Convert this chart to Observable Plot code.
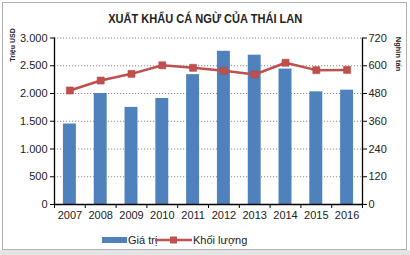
<!DOCTYPE html>
<html><head><meta charset="utf-8">
<script src="https://cdn.jsdelivr.net/npm/d3@7"></script>
<script src="https://cdn.jsdelivr.net/npm/@observablehq/plot@0.6"></script>
<style>
body{margin:0;background:#fff;}
#wrap{position:relative;width:410px;height:255px;overflow:hidden;font-family:"Liberation Sans",Arial,sans-serif;}
#frame{position:absolute;left:2px;top:2px;width:403px;height:246px;border:1px solid #b0b0b0;}
#strip{position:absolute;left:0;top:250px;width:410px;height:5px;background:#e4e4e4;}
#title{position:absolute;left:0;top:9px;width:410px;text-align:center;}
#title span{display:inline-block;transform:scaleX(0.85);font-family:"Liberation Sans",Arial,sans-serif;font-weight:bold;font-size:13px;color:#222;white-space:nowrap;}
#plot{position:absolute;left:0;top:0;}
#over{position:absolute;left:0;top:0;}
</style></head>
<body>
<div id="wrap">
<div id="frame"></div>
<div id="strip"></div>
<div id="plot"></div>
<div id="title"><span>XUẤT KHẨU CÁ NGỪ CỦA THÁI LAN</span></div>
<svg id="over" width="410" height="255"></svg>
</div>
<script>
const years = [2007, 2008, 2009, 2010, 2011, 2012, 2013, 2014, 2015, 2016];
const values = [1450, 2000, 1750, 1910, 2340, 2760, 2690, 2440, 2030, 2060];
const volumes = [493, 536, 565, 602, 591, 578, 562, 613, 581, 582];
const leftTicks = [0, 500, 1000, 1500, 2000, 2500, 3000];
const rightTicks = [0, 120, 240, 360, 480, 600, 720];
const seriesNames = ["Giá trị", "Khối lượng"];
const axisTitles = ["Triệu USD", "Nghìn tấn"];

const ratio = 3000 / 720;
const data = years.map((y, i) => ({year: y, value: values[i], vol: volumes[i]}));
const loc = d3.formatLocale({decimal: ",", thousands: ".", grouping: [3], currency: ["", ""]});
const fmt = loc.format(",");
const bounds = years.map(y => y - 0.5).concat([years[years.length - 1] + 0.5]);
const x0 = bounds[0], x1 = bounds[bounds.length - 1];

const chart = Plot.plot({
  width: 410, height: 255,
  marginLeft: 54, marginRight: 48, marginTop: 37.5, marginBottom: 51,
  style: {fontSize: "11px", fontFamily: "'Liberation Sans', Arial, sans-serif", color: "#222", background: "transparent"},
  x: {type: "linear", domain: [x0, x1], axis: null},
  y: {domain: [0, 3000], axis: null},
  marks: [
    Plot.ruleY(leftTicks.slice(1), {stroke: "#8a8a8a", strokeDasharray: "1.2,1.8", strokeWidth: 1}),
    Plot.rect(data, {x1: d => d.year - 0.21, x2: d => d.year + 0.21, y1: 0, y2: "value", fill: "#4F81BD"}),
    Plot.line(data, {x: "year", y: d => d.vol * ratio, stroke: "#C0504D", strokeWidth: 2.5}),
    Plot.dot(data, {x: "year", y: d => d.vol * ratio, symbol: "square", r: 4, fill: "#C0504D", stroke: "#B04440", strokeWidth: 0.5}),
    Plot.ruleX([x0], {y1: 0, y2: 3000, stroke: "#000", strokeWidth: 1.3}),
    Plot.ruleX([x1], {y1: 0, y2: 3000, stroke: "#000", strokeWidth: 1.3}),
    Plot.ruleY([0], {stroke: "#000", strokeWidth: 1.3}),
    Plot.axisY({anchor: "left", label: null, ticks: leftTicks, tickFormat: d => fmt(d), tickSize: 4, tickPadding: 3, stroke: "#000", fill: "#222"}),
    Plot.axisY({anchor: "right", label: null, ticks: rightTicks.map(t => t * ratio), tickFormat: d => String(Math.round(d / ratio)), tickSize: 4, tickPadding: 2, stroke: "#000", fill: "#222"}),
    Plot.axisX({label: null, ticks: bounds, tickFormat: () => "", tickSize: 4, stroke: "#000"}),
    Plot.axisX({label: null, ticks: years, tickFormat: d => String(d), tickSize: 0, tickPadding: 7, fill: "#222"}),
    Plot.text([axisTitles[0]], {text: d => d, frameAnchor: "top-left", dx: -42, dy: 7, rotate: -90, textAnchor: "middle", lineAnchor: "middle", fontSize: 7, fontWeight: "bold", fill: "#222"}),
    Plot.text([axisTitles[1]], {text: d => d, frameAnchor: "top-right", dx: 36, dy: 16, rotate: 90, textAnchor: "middle", lineAnchor: "middle", fontSize: 7.5, fontWeight: "bold", fill: "#222"})
  ]
});
document.getElementById("plot").appendChild(chart);

const ff = "Liberation Sans, Arial, sans-serif";
document.getElementById("over").innerHTML = `
  <rect x="102" y="237" width="25" height="6" fill="#4F81BD"/>
  <text x="128" y="244" font-size="11" fill="#222" font-family="${ff}">${seriesNames[0]}</text>
  <line x1="155" x2="192" y1="240" y2="240" stroke="#C0504D" stroke-width="2.5"/>
  <rect x="170" y="236.5" width="7" height="7" fill="#C0504D"/>
  <text x="193" y="244" font-size="11" fill="#222" font-family="${ff}">${seriesNames[1]}</text>`;
</script>
</body></html>
